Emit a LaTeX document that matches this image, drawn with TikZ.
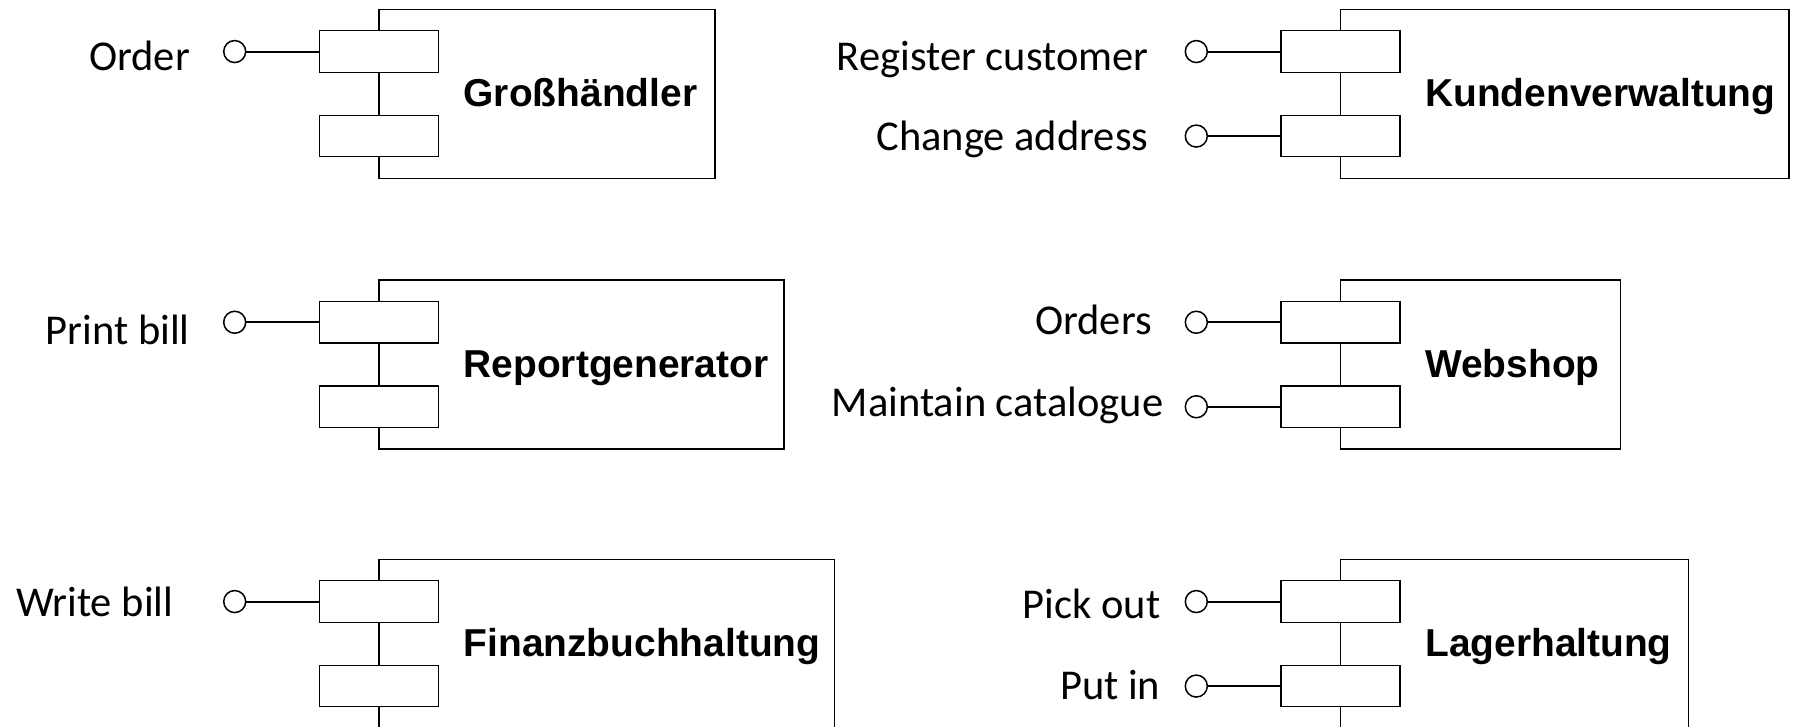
\documentclass[tikz,border=0pt]{standalone}
\usepackage{fontspec}
\setmainfont{Carlito}
\newfontfamily\arialfont{Liberation Sans}
\tikzset{
  mainbox/.style={draw, line width=1.3pt, inner sep=0pt, outer sep=0pt, anchor=north west},
  portbox/.style={draw, fill=white, line width=1.3pt, minimum width=119pt, minimum height=41.5pt, inner sep=0pt, outer sep=0pt, anchor=north west},
  ttl/.style={inner sep=0pt, anchor=base west, font=\arialfont\bfseries\fontsize{38.9pt}{47pt}\selectfont},
  lbl/.style={inner sep=0pt, anchor=base east, font=\fontsize{42.5pt}{51pt}\selectfont},
  lolli/.style={draw, circle, line width=1.5pt, minimum size=22pt, inner sep=0pt, outer sep=0pt, fill=white},
  conn/.style={line width=2pt},
}
% #1 id, #2 left x, #3 top y, #4 right x, #5 title
\newcommand\compbox[5]{%
  \node[mainbox, minimum width={(#4-#2)*1pt}, minimum height=169pt] (#1) at (#2,#3) {};
  \node[portbox] (#1p1) at ({#2-59.6},{#3+21.5}) {};
  \node[portbox] (#1p2) at ({#2-59.6},{#3+106}) {};
  \node[ttl] (#1t) at ({#2+84.5},{#3+97}) {#5};
}
% #1 id, #2 port, #3 label right x, #4 label baseline y, #5 text
\newcommand\iface[5]{%
  \node[lolli] (#1c#2) at ([xshift=-84.7pt]#1p#2.west) {};
  \node[lbl] (#1l#2) at (#3,#4) {#5};
  \draw[conn] (#1c#2) -- (#1p#2);
}
\begin{document}
\begin{tikzpicture}[x=1pt, y=-1pt]
\useasboundingbox (0,0) rectangle (1795,726);
\clip (0,0) rectangle (1795,726);
\compbox{gross}{379}{9.3}{715}{Großhändler}
\compbox{kunden}{1340.6}{9.3}{1789}{Kundenverwaltung}
\compbox{report}{379}{280}{784}{Reportgenerator}
\compbox{web}{1340.6}{280}{1620.5}{Webshop}
\compbox{finanz}{379}{559.3}{834.6}{Finanzbuchhaltung}
\compbox{lager}{1340.6}{559.3}{1688.3}{Lagerhaltung}
\iface{gross}{1}{190}{70.5}{Order}
\iface{kunden}{1}{1148.5}{70.5}{Register customer}
\iface{kunden}{2}{1148.5}{150}{Change address}
\iface{report}{1}{190}{344.5}{Print bill}
\iface{web}{1}{1152}{334.5}{Orders}
\iface{web}{2}{1163.5}{416.5}{Maintain catalogue}
\iface{finanz}{1}{173.5}{616.5}{Write bill}
\iface{lager}{1}{1160.5}{618.5}{Pick out}
\iface{lager}{2}{1160.5}{699}{Put in}
\end{tikzpicture}
\end{document}
